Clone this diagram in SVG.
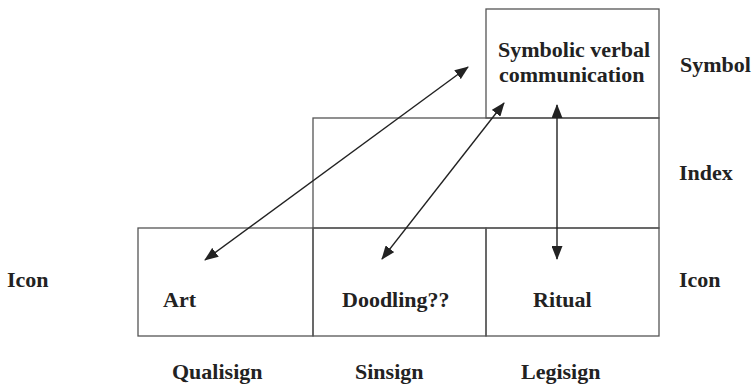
<svg xmlns="http://www.w3.org/2000/svg" width="753" height="386" viewBox="0 0 753 386">
<style>
.box{fill:none;stroke:#555;stroke-width:1.3}
.t{font-family:"Liberation Serif",serif;font-weight:bold;font-size:22px;fill:#222}
.c{stroke:#222;stroke-width:1.4;fill:none;marker-start:url(#ah);marker-end:url(#ah)}
</style>
<defs>
<marker id="ah" viewBox="0 0 14 11" refX="13" refY="5.5" markerWidth="14" markerHeight="11" markerUnits="userSpaceOnUse" orient="auto-start-reverse">
<path d="M0,0 L14,5.5 L0,11 Z" fill="#222"/>
</marker>
</defs>
<rect width="753" height="386" fill="#fff"/>
<g id="symbol-box">
<rect class="box" x="486" y="9" width="173" height="109"/>
<text class="t" x="498" y="57">Symbolic verbal</text>
<text class="t" x="499" y="82">communication</text>
</g>
<g id="index-box">
<rect class="box" x="313" y="118" width="346" height="110"/>
</g>
<g id="art">
<rect class="box" x="138" y="228" width="175" height="108"/>
<text class="t" x="163" y="307">Art</text>
</g>
<g id="doodling">
<rect class="box" x="313" y="228" width="173" height="108"/>
<text class="t" x="342" y="307">Doodling??</text>
</g>
<g id="ritual">
<rect class="box" x="486" y="228" width="173" height="108"/>
<text class="t" x="533" y="307">Ritual</text>
</g>
<g id="labels">
<text class="t" x="680" y="72">Symbol</text>
<text class="t" x="679" y="180">Index</text>
<text class="t" x="679" y="287">Icon</text>
<text class="t" x="7" y="287">Icon</text>
<text class="t" x="172" y="379">Qualisign</text>
<text class="t" x="355" y="379">Sinsign</text>
<text class="t" x="521" y="379">Legisign</text>
</g>
<g id="connectors">
<line class="c" x1="205" y1="260" x2="468" y2="67"/>
<line class="c" x1="382" y1="259" x2="504" y2="103"/>
<line class="c" x1="557" y1="259" x2="557" y2="105"/>
</g>
</svg>
